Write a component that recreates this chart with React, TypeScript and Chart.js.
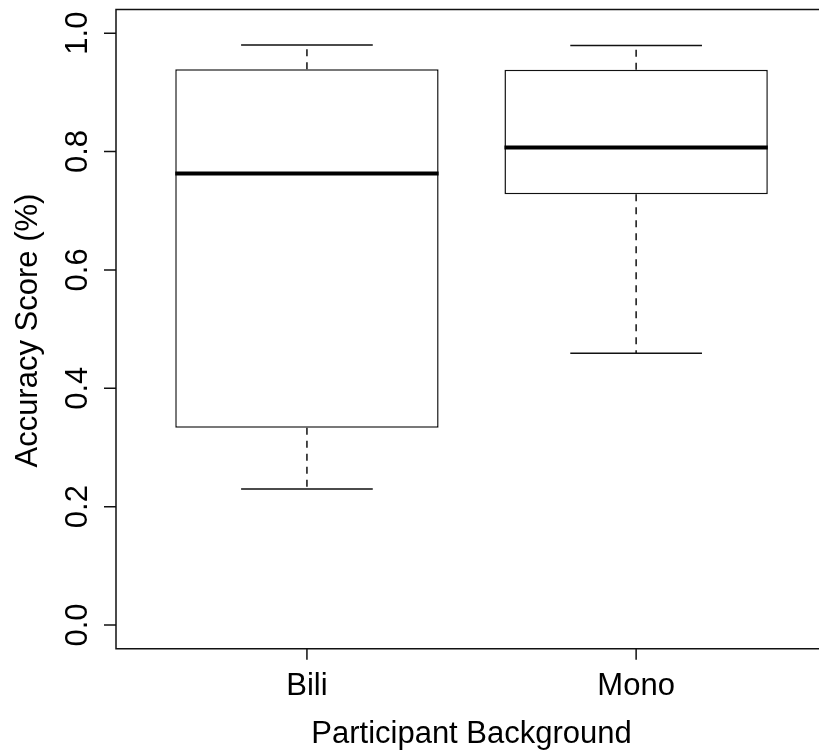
import React, { useEffect, useRef } from "react";
import { Chart, registerables } from "chart.js";

Chart.register(...registerables);

// ---- data ----
const categories = ["Bili", "Mono"];
const positions = [1, 2];
const whiskerMin = [0.230, 0.459];
const quartile1 = [0.3335, 0.728];
const medians = [0.763, 0.807];
const quartile3 = [0.939, 0.938];
const whiskerMax = [0.980, 0.979];
const yTickValues = [0, 0.2, 0.4, 0.6, 0.8, 1.0];
const yTickLabels = ["0.0", "0.2", "0.4", "0.6", "0.8", "1.0"];
const xTitle = "Participant Background";
const yTitle = "Accuracy Score (%)";

// ---- layout / style ----
const X_MIN = 0.42;
const X_MAX_VIRTUAL = 2.58;
const X_MAX_VISIBLE = 2.5555;
const Y_MIN = -0.04;
const Y_MAX = 1.04;
const BOX_HALF = 0.4;
const CAP_HALF = 0.2;
const FONT = '31px "Liberation Sans", Arial, Helvetica, sans-serif';
const LINE = "#111";

const rPlugin = {
  id: "rBoxplot",
  afterDatasetsDraw(chart: any) {
    const { ctx, scales } = chart;
    const x = scales.x;
    const y = scales.y;
    ctx.save();
    positions.forEach((pos, i) => {
      const xc = x.getPixelForValue(pos);
      const bl = x.getPixelForValue(pos - BOX_HALF);
      const br = x.getPixelForValue(pos + BOX_HALF);
      const cl = x.getPixelForValue(pos - CAP_HALF);
      const cr = x.getPixelForValue(pos + CAP_HALF);
      // whiskers
      ctx.strokeStyle = LINE;
      ctx.lineWidth = 1.5;
      ctx.setLineDash([7, 6]);
      ctx.beginPath();
      ctx.moveTo(xc, y.getPixelForValue(quartile3[i]));
      ctx.lineTo(xc, y.getPixelForValue(whiskerMax[i]));
      ctx.moveTo(xc, y.getPixelForValue(quartile1[i]));
      ctx.lineTo(xc, y.getPixelForValue(whiskerMin[i]));
      ctx.stroke();
      ctx.setLineDash([]);
      // caps
      ctx.beginPath();
      ctx.moveTo(cl, y.getPixelForValue(whiskerMax[i]));
      ctx.lineTo(cr, y.getPixelForValue(whiskerMax[i]));
      ctx.moveTo(cl, y.getPixelForValue(whiskerMin[i]));
      ctx.lineTo(cr, y.getPixelForValue(whiskerMin[i]));
      ctx.stroke();
      // median
      ctx.strokeStyle = "#000";
      ctx.lineWidth = 4;
      ctx.lineCap = "butt";
      ctx.beginPath();
      ctx.moveTo(bl, y.getPixelForValue(medians[i]));
      ctx.lineTo(br, y.getPixelForValue(medians[i]));
      ctx.stroke();
    });
    ctx.restore();
  },
  afterDraw(chart: any) {
    const { ctx, scales, chartArea } = chart;
    const x = scales.x;
    const y = scales.y;
    const left = chartArea.left;
    const top = chartArea.top;
    const bottom = chartArea.bottom;
    const rightV = x.getPixelForValue(X_MAX_VIRTUAL);
    ctx.save();
    ctx.strokeStyle = LINE;
    ctx.lineWidth = 1.5;
    // frame
    ctx.beginPath();
    ctx.moveTo(rightV, top);
    ctx.lineTo(left, top);
    ctx.lineTo(left, bottom);
    ctx.lineTo(rightV, bottom);
    ctx.stroke();
    // y ticks
    ctx.beginPath();
    yTickValues.forEach((v) => {
      const py = y.getPixelForValue(v);
      ctx.moveTo(left, py);
      ctx.lineTo(left - 12, py);
    });
    // x ticks
    positions.forEach((p) => {
      const px = x.getPixelForValue(p);
      ctx.moveTo(px, bottom);
      ctx.lineTo(px, bottom + 11);
    });
    ctx.stroke();
    // labels
    ctx.fillStyle = "#000";
    ctx.font = FONT;
    ctx.textAlign = "center";
    ctx.textBaseline = "alphabetic";
    yTickValues.forEach((v, i) => {
      ctx.save();
      ctx.translate(left - 29, y.getPixelForValue(v));
      ctx.rotate(-Math.PI / 2);
      ctx.fillText(yTickLabels[i], 0, 0);
      ctx.restore();
    });
    positions.forEach((p, i) => {
      ctx.fillText(categories[i], x.getPixelForValue(p), bottom + 46);
    });
    const cx = (x.getPixelForValue(X_MIN) + rightV) / 2;
    ctx.fillText(xTitle, cx, bottom + 94);
    ctx.save();
    ctx.translate(left - 79, (top + bottom) / 2 + 1.5);
    ctx.rotate(-Math.PI / 2);
    ctx.fillText(yTitle, 0, 0);
    ctx.restore();
    ctx.restore();
  },
};

export default function App() {
  const ref = useRef<HTMLCanvasElement | null>(null);
  useEffect(() => {
    document.body.style.margin = "0";
    document.body.style.overflow = "hidden";
    if (!ref.current) return;
    const chart = new Chart(ref.current, {
      type: "bar",
      data: {
        datasets: [
          {
            data: positions.map((p, i) => ({ x: p, y: [quartile1[i], quartile3[i]] })) as any,
            backgroundColor: "#ffffff",
            borderColor: LINE,
            borderWidth: 1.5,
            borderSkipped: false,
            categoryPercentage: 1,
            barPercentage: 0.8,
          },
        ],
      },
      options: {
        responsive: false,
        animation: false,
        devicePixelRatio: 1,
        layout: { padding: { left: 116, top: 9.5, right: 0, bottom: 104.3 } },
        plugins: { legend: { display: false }, tooltip: { enabled: false } },
        scales: {
          x: {
            type: "linear",
            display: false,
            offset: false,
            grid: { offset: false },
            min: X_MIN,
            max: X_MAX_VISIBLE,
            bounds: "data",
            afterBuildTicks: (s: any) => {
              s.ticks = positions.map((p) => ({ value: p }));
            },
          },
          y: {
            type: "linear",
            display: false,
            min: Y_MIN,
            max: Y_MAX,
          },
        },
      },
      plugins: [rPlugin],
    });
    return () => chart.destroy();
  }, []);
  return (
    <div style={{ width: 819, height: 753 }}>
      <canvas ref={ref} width={819} height={753} style={{ display: "block" }} />
    </div>
  );
}
